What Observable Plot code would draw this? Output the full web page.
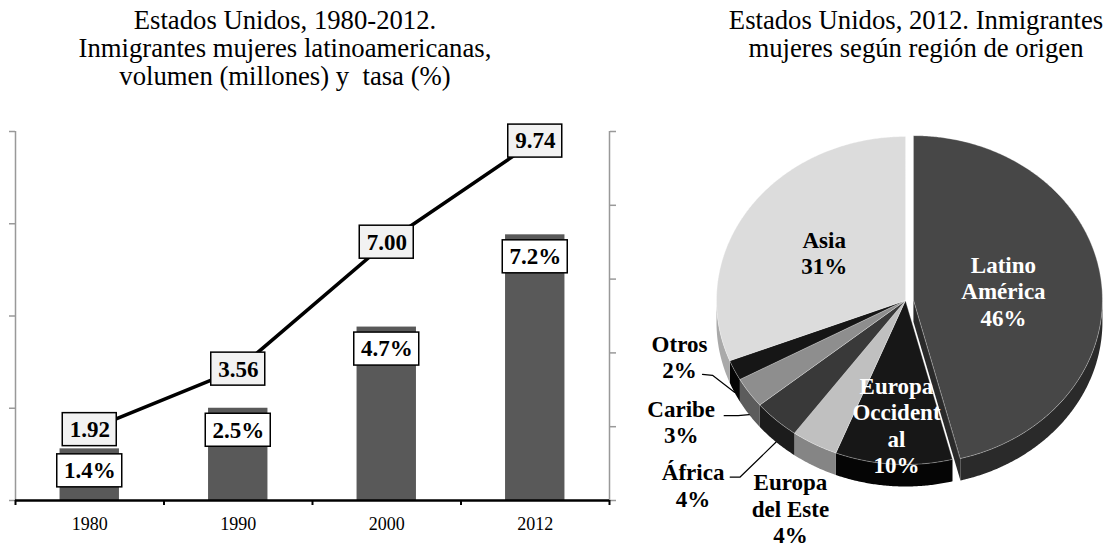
<!DOCTYPE html>
<html><head><meta charset="utf-8">
<script src="https://cdn.jsdelivr.net/npm/d3@7"></script>
<script src="https://cdn.jsdelivr.net/npm/@observablehq/plot@0.6"></script>
<style>
html,body{margin:0;padding:0;background:#fff;}
#root{position:relative;width:1107px;height:550px;overflow:hidden;font-family:"Liberation Serif","Times New Roman",serif;}
.title{position:absolute;text-align:center;font-size:26.7px;line-height:28px;color:#000;white-space:nowrap;}
#t1{left:0;width:570px;top:6px;}
#t2{left:716px;width:400px;top:6px;}
#left{position:absolute;left:0;top:100px;}
#right{position:absolute;left:620px;top:100px;}
</style></head><body>
<div id="root">
<div class="title" id="t1">Estados Unidos, 1980-2012.<br>Inmigrantes mujeres latinoamericanas,<br>volumen (millones) y&nbsp; tasa (%)</div>
<div class="title" id="t2">Estados Unidos, 2012. Inmigrantes<br>mujeres según región de origen</div>
<div id="left"></div><div id="right"></div>
</div>
<script>
// ---- data ----
const years = ["1980", "1990", "2000", "2012"];
const volumen = [1.92, 3.56, 7.00, 9.74];      // millones (line, left axis)
const tasa = [1.4, 2.5, 4.7, 7.2];             // % (bars, right axis)
const regiones = ["Latino\nAmérica", "Europa\nOccident\nal", "Europa\ndel Este", "África", "Caribe", "Otros", "Asia"];
const porcentajes = [46, 10, 4, 4, 3, 2, 31];

// ---- styles / layout ----
const serif = '"Liberation Serif", "Times New Roman", serif';
const topColors  = ["#474747", "#171717", "#c0c0c0", "#393939", "#8e8e8e", "#161616", "#dcdcdc"];
const sideColors = ["#2a2a2a", "#050505", "#858585", "#1c1c1c", "#5c5c5c", "#050505", "#a9a9a9"];
const labelColors = ["white", "white", "black", "black", "black", "black", "black"];

// ---- left chart ----
const rows = years.map((y, i) => ({year: y, i, vol: volumen[i], tasa: tasa[i]}));
const cxPos = d => d.i + 0.5;
const left = Plot.plot({
  width: 625, height: 450,
  marginLeft: 15, marginRight: 16, marginTop: 31, marginBottom: 50,
  style: {fontFamily: serif, background: "transparent", overflow: "visible"},
  x: {domain: [0, 4], axis: null},
  y: {domain: [0, 10], axis: null},
  marks: [
    Plot.rectY(rows, {x1: d => d.i + 0.3, x2: d => d.i + 0.7, y1: 0, y2: "tasa", fill: "#595959"}),
    Plot.ruleX([0, 4], {stroke: "#999", strokeWidth: 1.5}),
    Plot.axisY({anchor: "left", ticks: [0, 2.5, 5, 7.5, 10], tickFormat: () => "", tickSize: 6, stroke: "#999", strokeWidth: 1.5}),
    Plot.axisY({anchor: "right", ticks: [0, 2, 4, 6, 8, 10], tickFormat: () => "", tickSize: 6, stroke: "#999", strokeWidth: 1.5}),
    Plot.ruleY([0], {stroke: "black", strokeWidth: 2.5}),
    Plot.axisX({ticks: [0, 1, 2, 3, 4], tickFormat: () => "", tickSize: 5, stroke: "black", strokeWidth: 2}),
    Plot.text(rows, {x: cxPos, y: 0, text: "year", dy: 24, fontSize: 18, fontFamily: serif, fill: "black"}),
    Plot.line(rows, {x: cxPos, y: "vol", stroke: "black", strokeWidth: 3.5}),
    Plot.rect(rows, {x1: cxPos, x2: cxPos, y1: "tasa", y2: "tasa", insetLeft: -32.5, insetRight: -32.5, insetTop: -16.5, insetBottom: -16.5, dy: 22, fill: "white", stroke: "black", strokeWidth: 1.5}),
    Plot.text(rows, {x: cxPos, y: "tasa", text: d => d.tasa.toFixed(1) + "%", dy: 22, fontSize: 23, fontWeight: "bold", fontFamily: serif, fill: "black"}),
    Plot.rect(rows, {x1: cxPos, x2: cxPos, y1: "vol", y2: "vol", insetLeft: -27, insetRight: -27, insetTop: -16.5, insetBottom: -16.5, fill: "#f2f2f2", stroke: "black", strokeWidth: 1.5}),
    Plot.text(rows, {x: cxPos, y: "vol", text: d => d.vol.toFixed(2), fontSize: 23, fontWeight: "bold", fontFamily: serif, fill: "black"})
  ]
});
document.getElementById("left").appendChild(left);

// ---- pie chart (3D look) ----
const cx = 905, cy = 300, rx = 189, ry = 164, depth = 22;
const explodeBy = [8, 0, 0, 0, 0, 0, 0];
const arcs = d3.pie().sort(null).value(d => d)(porcentajes);
const P = (a, r = 1) => [cx + rx * r * Math.sin(a), cy - ry * r * Math.cos(a)];
const sidePts = [], facePts = [], topPts = [];
arcs.forEach((a, i) => {
  const mid = (a.startAngle + a.endAngle) / 2;
  const ox = explodeBy[i] * Math.sin(mid), oy = -explodeBy[i] * Math.cos(mid) * ry / rx;
  const arcPoints = (s0, s1) => {
    const n = Math.max(2, Math.ceil((s1 - s0) / 0.008));
    return d3.range(n + 1).map(k => { const t = s0 + (s1 - s0) * k / n; const p = P(t); return [p[0] + ox, p[1] + oy]; });
  };
  const s0 = Math.max(a.startAngle, Math.PI / 2), s1 = Math.min(a.endAngle, 3 * Math.PI / 2);
  if (s1 > s0) {
    const topArc = arcPoints(s0, s1);
    const pts = topArc.concat(topArc.slice().reverse().map(p => [p[0], p[1] + depth]));
    pts.forEach(p => sidePts.push({key: "s" + i, x: p[0], y: p[1], color: sideColors[i]}));
  }
  if (explodeBy[i] > 0) {
    const e = P(a.endAngle);
    const c = [cx + ox, cy + oy], r = [e[0] + ox, e[1] + oy];
    [c, r, [r[0], r[1] + depth], [c[0], c[1] + depth]].forEach(p => facePts.push({key: "f" + i, x: p[0], y: p[1], color: sideColors[i]}));
  }
  [[cx + ox, cy + oy]].concat(arcPoints(a.startAngle, a.endAngle))
    .forEach(p => topPts.push({key: "t" + i, x: p[0], y: p[1], color: topColors[i]}));
});

// label placement
const insideRadius = {0: 0.48, 1: 0.76, 6: 0.52};
const outsideLayout = { // offsets from rim anchor: label centre, leader elbow, leader end
  2: {label: [-24, 42]},
  3: {label: [-83, 43], elbow: [-36, 35], end: [-46, 35]},
  4: {label: [-68, 7], elbow: [-11, 1], end: [-25, 1]},
  5: {label: [-55, -36], elbow: [-22, -17], end: [-32, -18]}
};
const labels = [], leaders = [];
arcs.forEach((a, i) => {
  const mid = (a.startAngle + a.endAngle) / 2;
  const ox = explodeBy[i] * Math.sin(mid);
  const text = regiones[i] + "\n" + porcentajes[i] + "%";
  if (insideRadius[i] !== undefined) {
    const p = P(mid, insideRadius[i]);
    labels.push({x: p[0] + ox, y: p[1], text, color: labelColors[i]});
  } else {
    const rim = P(mid); const A = [rim[0], rim[1] + depth];
    const L = outsideLayout[i];
    labels.push({x: A[0] + L.label[0], y: A[1] + L.label[1], text, color: labelColors[i]});
    if (L.elbow) {
      [A, [A[0] + L.elbow[0], A[1] + L.elbow[1]], [A[0] + L.end[0], A[1] + L.end[1]]]
        .forEach(p => leaders.push({key: "l" + i, x: p[0], y: p[1]}));
    }
  }
});

const right = Plot.plot({
  width: 487, height: 450, margin: 0,
  style: {fontFamily: serif, background: "transparent", overflow: "visible"},
  x: {domain: [620, 1107], axis: null},
  y: {domain: [550, 100], axis: null},
  color: {type: "identity"},
  marks: [
    Plot.line(sidePts, {x: "x", y: "y", z: "key", fill: "color", stroke: "none", curve: "linear-closed"}),
    Plot.line(facePts, {x: "x", y: "y", z: "key", fill: "color", stroke: "none", curve: "linear-closed"}),
    Plot.line(topPts, {x: "x", y: "y", z: "key", fill: "color", stroke: "#ffffff", strokeOpacity: 0.4, strokeWidth: 0.8, curve: "linear-closed"}),
    Plot.line(leaders, {x: "x", y: "y", z: "key", stroke: "black", strokeWidth: 1.2}),
    Plot.text(labels, {x: "x", y: "y", text: "text", fill: "color", fontSize: 23, fontWeight: "bold", fontFamily: serif, lineHeight: 1.15})
  ]
});
document.getElementById("right").appendChild(right);
</script>
</body></html>
